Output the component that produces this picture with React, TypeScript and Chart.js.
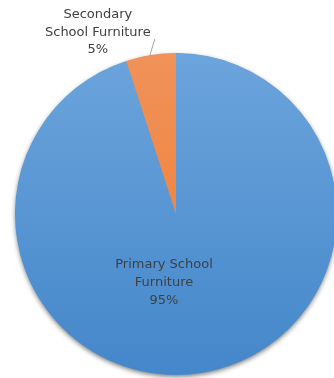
import React, { useEffect, useRef } from "react";
import { Chart, registerables } from "chart.js";

Chart.register(...registerables);

const categories = ["Primary School Furniture", "Secondary School Furniture"];
const values = [95, 5];
const labelLines = [
  ["Primary School", "Furniture", "95%"],
  ["Secondary", "School Furniture", "5%"],
];

const labelPlugin = {
  id: "pieLabels",
  beforeDatasetsDraw(chart: any) {
    const meta = chart.getDatasetMeta(0);
    const arc = meta.data[0];
    if (!arc) return;
    const ctx = chart.ctx;
    ctx.save();
    ctx.shadowColor = "rgba(0,0,0,0.55)";
    ctx.shadowBlur = 5;
    ctx.shadowOffsetY = 2;
    ctx.shadowOffsetX = 0;
    ctx.fillStyle = "#5b9bd5";
    ctx.beginPath();
    ctx.arc(arc.x, arc.y, arc.outerRadius - 0.5, 0, Math.PI * 2);
    ctx.fill();
    ctx.restore();
  },
  afterDatasetsDraw(chart: any) {
    const meta = chart.getDatasetMeta(0);
    const ctx = chart.ctx;
    ctx.save();
    ctx.font = "13px 'DejaVu Sans'";
    ctx.fillStyle = "#404040";
    ctx.textAlign = "center";
    ctx.textBaseline = "middle";
    const a0 = meta.data[0];
    const cx0 = a0.x - 12;
    const cy0 = a0.y + 51;
    labelLines[0].forEach((t, i) => ctx.fillText(t, cx0, cy0 + i * 18));
    const a1 = meta.data[1];
    const mid = (a1.startAngle + a1.endAngle) / 2;
    const ex = a1.x + Math.cos(mid) * a1.outerRadius;
    const ey = a1.y + Math.sin(mid) * a1.outerRadius;
    const lx = ex - 53;
    const ly = ey - 40;
    labelLines[1].forEach((t, i) => ctx.fillText(t, lx, ly + i * 17.5));
    ctx.strokeStyle = "#a6a6a6";
    ctx.lineWidth = 1;
    ctx.beginPath();
    ctx.moveTo(ex - 1, ey + 0.5);
    ctx.lineTo(ex + 4, ey - 16);
    ctx.stroke();
    ctx.restore();
  },
};

export default function App() {
  const ref = useRef<HTMLCanvasElement>(null);
  useEffect(() => {
    if (!ref.current) return;
    const grad = (ctx: any, top: string, bottom: string) => {
      const chart = ctx.chart;
      const area = chart.chartArea;
      if (!area) return top;
      const g = chart.ctx.createLinearGradient(0, area.top, 0, area.bottom);
      g.addColorStop(0, top);
      g.addColorStop(1, bottom);
      return g;
    };
    const chart = new Chart(ref.current, {
      type: "pie",
      data: {
        labels: categories,
        datasets: [
          {
            data: values,
            backgroundColor: (ctx: any) =>
              ctx.dataIndex === 0
                ? grad(ctx, "#6ca4dc", "#4487ca")
                : grad(ctx, "#f0925a", "#f07b2c"),
            borderWidth: 0,
          },
        ],
      },
      options: {
        responsive: false,
        animation: false,
        layout: { padding: { left: 15, right: 8, top: 53, bottom: 3 } },
        plugins: {
          legend: { display: false },
          tooltip: { enabled: false },
        },
      },
      plugins: [labelPlugin],
    });
    return () => chart.destroy();
  }, []);
  return (
    <div
      style={{
        position: "fixed",
        left: 0,
        top: 0,
        width: 334,
        height: 378,
        overflow: "hidden",
        background: "#fff",
      }}
    >
      <canvas ref={ref} width={345} height={378} style={{ display: "block" }} />
    </div>
  );
}
